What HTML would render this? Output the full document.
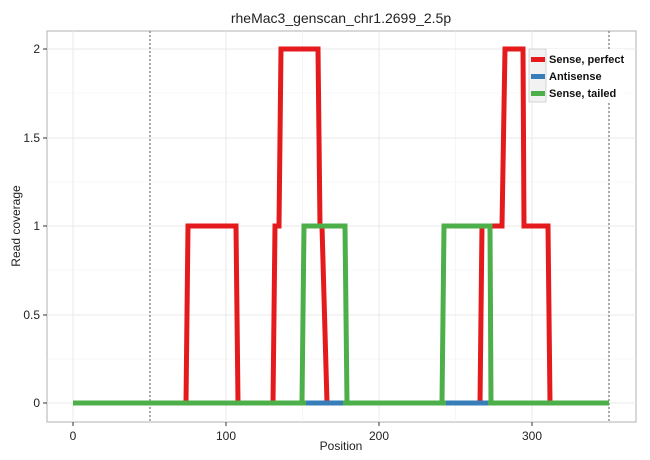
<!DOCTYPE html><html><head><style>body{margin:0;background:#fff}svg{display:block;font-family:"Liberation Sans",Arial,sans-serif}</style></head><body>
<svg width="650" height="460" viewBox="0 0 650 460">
<rect x="47" y="31" width="589" height="391" fill="#fff" stroke="#bdbdbd" stroke-width="1.2"/>
<g stroke="#f0f0f0" stroke-width="0.6">
<line x1="47" x2="636" y1="359" y2="359"/><line x1="47" x2="636" y1="270" y2="270"/><line x1="47" x2="636" y1="182" y2="182"/><line x1="47" x2="636" y1="93" y2="93"/>
<line x1="149.5" x2="149.5" y1="31" y2="422"/><line x1="302.5" x2="302.5" y1="31" y2="422"/><line x1="455.5" x2="455.5" y1="31" y2="422"/><line x1="608.5" x2="608.5" y1="31" y2="422"/>
</g>
<g stroke="#e8e8e8" stroke-width="1">
<line x1="47" x2="636" y1="403" y2="403"/><line x1="47" x2="636" y1="226" y2="226"/><line x1="47" x2="636" y1="49" y2="49"/><line x1="47" x2="636" y1="315" y2="315"/><line x1="47" x2="636" y1="138" y2="138"/>
<line x1="73" x2="73" y1="31" y2="422"/><line x1="226" x2="226" y1="31" y2="422"/><line x1="379" x2="379" y1="31" y2="422"/><line x1="532" x2="532" y1="31" y2="422"/>
</g>
<g stroke="#777" stroke-width="1.2" stroke-dasharray="2,2"><line x1="150" x2="150" y1="31" y2="422"/><line x1="609" x2="609" y1="31" y2="422"/></g>
<g fill="none" stroke-width="5" stroke-linejoin="miter">
<polyline stroke="#377eb8" points="73,403 609,403"/>
<polyline stroke="#e41a1c" points="73,403 186,403 188,226 236,226 238,403 273,403 275,226 279,226 281,49 318,49 320,226 322,226 327,403 480,403 482,226 502,226 505,49 523,49 524,226 548,226 550,403 609,403"/>
<polyline stroke="#4daf4a" points="73,403 302,403 304,226 345,226 347,403 304,403 347,403 442,403 444,226 490,226 491,403 303,403"/>
<polyline stroke="#4daf4a" points="347,403 443,403 M0,0"/>
<polyline stroke="#4daf4a" points="491,403 609,403"/>
<polyline stroke="#4daf4a" points="73,403 302,403"/>
</g>
<polyline stroke="#377eb8" stroke-width="5" fill="none" points="306,403 343,403"/>
<polyline stroke="#377eb8" stroke-width="5" fill="none" points="446,403 488,403"/>
<g stroke="#333" stroke-width="1"><line x1="43" x2="47" y1="403" y2="403"/><line x1="43" x2="47" y1="315" y2="315"/><line x1="43" x2="47" y1="226" y2="226"/><line x1="43" x2="47" y1="138" y2="138"/><line x1="43" x2="47" y1="49" y2="49"/>
<line x1="73" x2="73" y1="422" y2="426"/><line x1="226" x2="226" y1="422" y2="426"/><line x1="379" x2="379" y1="422" y2="426"/><line x1="532" x2="532" y1="422" y2="426"/></g>
<g font-size="12" fill="#222" text-anchor="end"><text x="40" y="407">0</text><text x="40" y="319">0.5</text><text x="40" y="230">1</text><text x="40" y="142">1.5</text><text x="40" y="53">2</text></g>
<g font-size="12" fill="#222" text-anchor="middle"><text x="73" y="440">0</text><text x="226" y="440">100</text><text x="379" y="440">200</text><text x="532" y="440">300</text>
<text x="341" y="450">Position</text><text x="341" y="23" font-size="14">rheMac3_genscan_chr1.2699_2.5p</text></g>
<text transform="translate(20,226) rotate(-90)" font-size="12" text-anchor="middle" fill="#222">Read coverage</text>
<rect x="529" y="49" width="96" height="53" fill="#fff"/>
<rect x="529" y="49" width="17" height="53" fill="#f2f2f2" stroke="#ccc" stroke-width="0.8"/>
<rect x="531" y="57" width="14" height="5" fill="#e41a1c"/><rect x="531" y="74" width="14" height="5" fill="#377eb8"/><rect x="531" y="91" width="14" height="5" fill="#4daf4a"/>
<g font-size="11" font-weight="bold" fill="#111"><text x="549" y="63">Sense, perfect</text><text x="549" y="80">Antisense</text><text x="549" y="97">Sense, tailed</text></g>
</svg></body></html>
